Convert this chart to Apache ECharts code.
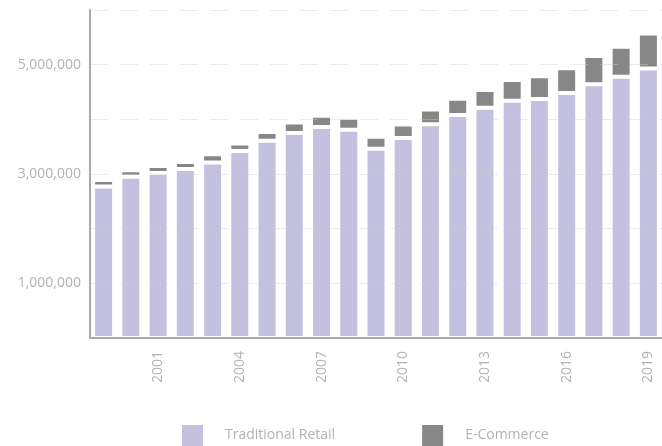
<!DOCTYPE html>
<html>
<head>
<meta charset="utf-8">
<script src="https://cdn.jsdelivr.net/npm/echarts@6/dist/echarts.min.js"></script>
<style>
  html, body { margin: 0; padding: 0; background: #fff; }
  #chart { width: 662px; height: 446px; }
</style>
</head>
<body>
<div id="chart"></div>
<script>
// years on the x axis
const years = ['1999', '2000', '2001', '2002', '2003', '2004', '2005', '2006', '2007', '2008',
  '2009', '2010', '2011', '2012', '2013', '2014', '2015', '2016', '2017', '2018', '2019'];

// (dollars)
const retail = [2770000, 2950000, 3020000, 3090000, 3210000, 3420000, 3610000, 3750000, 3860000, 3810000,
  3460000, 3660000, 3910000, 4080000, 4210000, 4340000, 4370000, 4480000, 4640000, 4780000, 4930000];
const ecommerce = [120000, 120000, 125000, 130000, 150000, 140000, 160000, 190000, 205000, 220000,
  220000, 245000, 270000, 295000, 325000, 380000, 420000, 455000, 520000, 550000, 640000];

// only these y labels are printed
const yLabels = [1000000, 3000000, 5000000];

const labelColor = '#b2b2b2';
const font = '"Open Sans", sans-serif';

const option = {
  animation: false,
  grid: { left: 90, top: 10, width: 573, height: 328 },
  legend: {
    left: 180,
    top: 423,
    padding: 0,
    itemWidth: 23,
    itemHeight: 23,
    itemGap: 85,
    icon: 'rect',
    textStyle: { color: labelColor, fontSize: 14, fontFamily: font, padding: [0, 0, 0, 16] },
    data: ['Traditional Retail', 'E-Commerce']
  },
  xAxis: {
    type: 'category',
    data: years,
    offset: 3,
    z: 10,
    axisLine: { lineStyle: { color: '#a9a9a9', width: 2 } },
    axisTick: { show: false },
    axisLabel: {
      rotate: 90,
      margin: 10,
      color: labelColor,
      fontSize: 14,
      fontFamily: font,
      interval: function (index) { return index % 3 === 2; }
    }
  },
  yAxis: {
    type: 'value',
    min: 0,
    max: 6000000,
    interval: 1000000,
    z: 10,
    axisLine: { show: true, lineStyle: { color: '#a9a9a9', width: 2 } },
    axisTick: { show: false },
    // faint dashed lines, drawn over the bars like the original
    splitLine: { showMinLine: false, lineStyle: { color: 'rgba(205,205,205,0.4)', type: [18, 12] } },
    axisLabel: {
      margin: 9,
      color: labelColor,
      fontSize: 14,
      fontFamily: font,
      formatter: function (v) {
        return yLabels.indexOf(v) >= 0 ? v.toLocaleString('en-US') : '';
      }
    }
  },
  series: [
    {
      name: 'Traditional Retail',
      type: 'bar',
      stack: 'total',
      barWidth: 21,
      itemStyle: { color: '#c4c1e0', borderColor: '#fff', borderWidth: 2 },
      data: retail
    },
    {
      name: 'E-Commerce',
      type: 'bar',
      stack: 'total',
      barWidth: 21,
      itemStyle: { color: '#878787', borderColor: '#fff', borderWidth: 2 },
      data: ecommerce
    }
  ]
};

const myChart = echarts.init(document.getElementById('chart'));
myChart.setOption(option);
</script>
</body>
</html>
